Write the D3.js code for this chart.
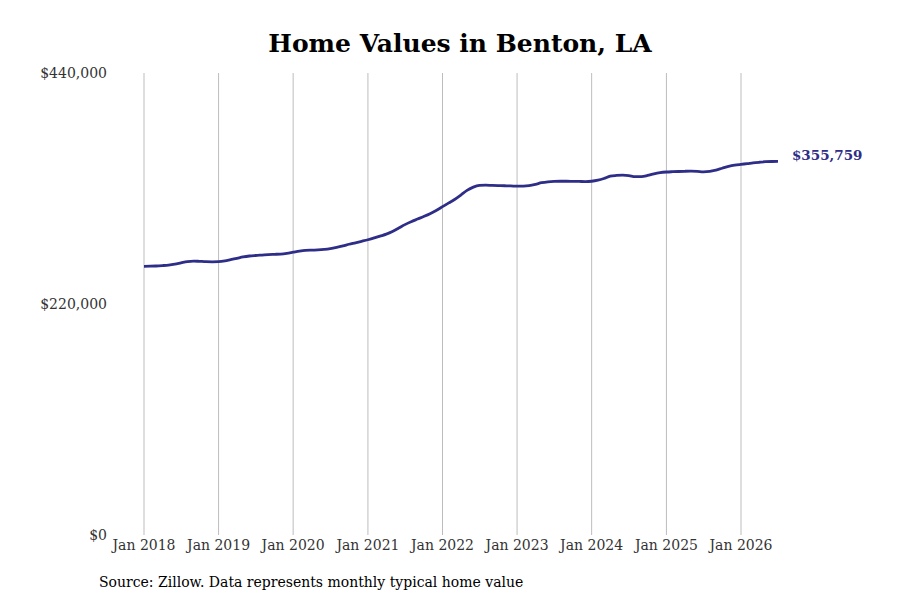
<!DOCTYPE html>
<html>
<head>
<meta charset="utf-8">
<script src="https://cdn.jsdelivr.net/npm/d3@7"></script>
<style>
  body { margin: 0; background: #fff; }
  text { font-family: "DejaVu Serif", serif; }
</style>
</head>
<body>
<svg id="chart" width="900" height="600"></svg>
<script>
// monthly typical home value, Jan 2018 .. Jul 2026
const startMonth = "2018-01";
const homeValues = [
  255900, 256000, 256200, 256600, 257100, 258000, 259200, 260400, 260900, 260600, 260300, 260200,
  260300, 261000, 262200, 263500, 264800, 265700, 266200, 266600, 267000, 267300, 267600, 268300,
  269300, 270300, 271000, 271300, 271500, 272000, 272800, 274000, 275400, 276900, 278300, 279700,
  281200, 282900, 284600, 286500, 289000, 292300, 295600, 298400, 300900, 303300, 306000, 309100,
  312700, 316300, 319500, 323800, 328200, 331300, 332900, 333200, 332900, 332700, 332600, 332500,
  332200, 332300, 332800, 334000, 335500, 336400, 336800, 336900, 336900, 336800, 336700, 336600,
  336900, 337900, 339500, 341700, 342400, 342700, 342300, 341300, 341300, 342400, 344000, 345100,
  345700, 346000, 346200, 346400, 346500, 346300, 345900, 346300, 347600, 349300, 351000, 352200,
  353000, 353700, 354400, 355000, 355500, 355700, 355759
];
const yTicks = [0, 220000, 440000];
const title = "Home Values in Benton, LA";
const source = "Source: Zillow. Data represents monthly typical home value";

const svg = d3.select("#chart");
const parse = d3.timeParse("%Y-%m");
const t0 = parse(startMonth);
const data = homeValues.map((v, i) => ({ date: d3.timeMonth.offset(t0, i), value: v }));

const x = d3.scaleTime()
  .domain([new Date(2018, 0, 1), new Date(2026, 0, 1)])
  .range([144, 741]);
const y = d3.scaleLinear().domain([0, 440000]).range([535, 73]);

// vertical grid
svg.append("g")
  .selectAll("line")
  .data(x.ticks(d3.timeYear.every(1)))
  .join("line")
  .attr("x1", d => x(d)).attr("x2", d => x(d))
  .attr("y1", y(440000)).attr("y2", y(0))
  .attr("stroke", "#bdbdbd")
  .attr("stroke-width", 1);

// x labels
svg.append("g")
  .selectAll("text")
  .data(x.ticks(d3.timeYear.every(1)))
  .join("text")
  .attr("x", d => x(d))
  .attr("y", 550)
  .attr("text-anchor", "middle")
  .attr("font-size", 14)
  .attr("fill", "#333")
  .text(d3.timeFormat("Jan %Y"));

// y labels
svg.append("g")
  .selectAll("text")
  .data(yTicks)
  .join("text")
  .attr("x", 107)
  .attr("y", d => y(d) + 5)
  .attr("text-anchor", "end")
  .attr("font-size", 14)
  .attr("fill", "#333")
  .text(d => d3.format("$,")(d));

// line
const line = d3.line()
  .x(d => x(d.date))
  .y(d => y(d.value))
  .curve(d3.curveMonotoneX);

svg.append("path")
  .datum(data)
  .attr("d", line)
  .attr("fill", "none")
  .attr("stroke", "#2e2d88")
  .attr("stroke-width", 2.8);

const last = data[data.length - 1];
svg.append("text")
  .attr("x", x(last.date) + 14)
  .attr("y", y(last.value) - 1)
  .attr("font-size", 13.5)
  .attr("font-weight", "bold")
  .attr("fill", "#2e2d88")
  .text(d3.format("$,")(last.value));

// title + source
svg.append("text")
  .attr("x", 460)
  .attr("y", 52)
  .attr("text-anchor", "middle")
  .attr("font-size", 25)
  .attr("font-weight", "bold")
  .attr("fill", "#000")
  .text(title);

svg.append("text")
  .attr("x", 99)
  .attr("y", 587)
  .attr("font-size", 14)
  .attr("fill", "#000")
  .text(source);
</script>
</body>
</html>
